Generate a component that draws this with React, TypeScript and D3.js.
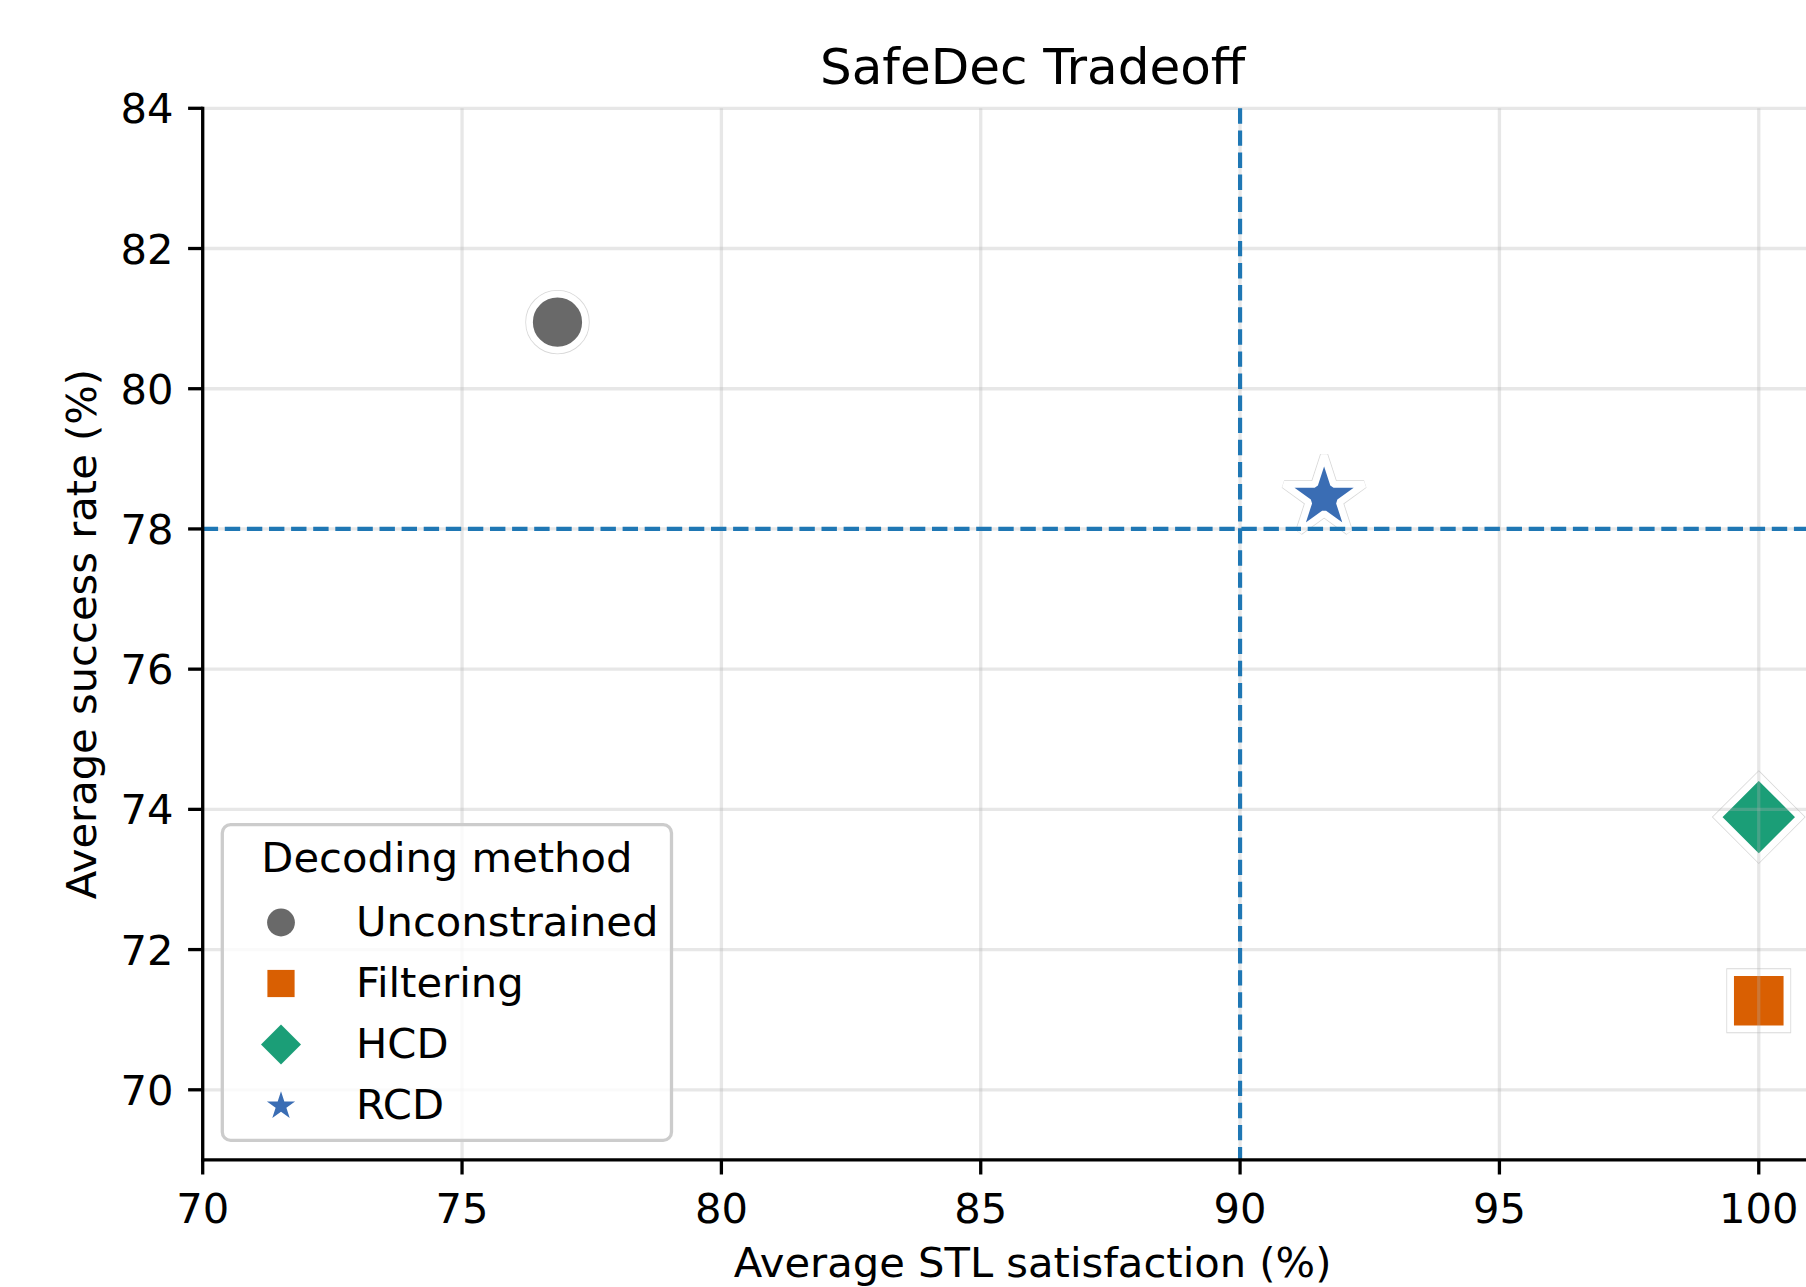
import React from "react";
import * as d3 from "d3";

// ---- data ----
const methods = ["Unconstrained", "Filtering", "HCD", "RCD"];
const stlSatisfaction = [76.84, 100, 100, 91.62];
const successRate = [80.95, 71.27, 73.89, 78.45];
const methodColors = ["#696969", "#d95f02", "#1b9e77", "#3a6db4"];
const xTicks = [70, 75, 80, 85, 90, 95, 100];
const yTicks = [70, 72, 74, 76, 78, 80, 82, 84];
const stlThreshold = 90;
const successThreshold = 78;
const xDomain = [70, 102];
const yDomain = [69, 84];

// ---- layout ----
const W = 1806;
const H = 1287;
const left = 202.7;
const right = 1862.5;
const top = 108.3;
const bottom = 1159.9;
const FONT = "DejaVu Sans, Verdana, sans-serif";
const FS = 41.67;
const TICK = 14.6;
const LW = 3.3;

const x = d3.scaleLinear().domain(xDomain).range([left, right]);
const y = d3.scaleLinear().domain(yDomain).range([bottom, top]);

// marker shapes: plot radius (path) and legend radius
type Kind = "circle" | "square" | "diamond" | "star";
const kinds: Kind[] = ["circle", "square", "diamond", "star"];
const plotRadius = [28, 28.2, 41, 42];
const legendRadius = [13.9, 13.6, 20, 14.8];

function symbolPath(kind: Kind, r: number): string {
  let type: d3.SymbolType;
  let size: number;
  if (kind === "circle") {
    type = d3.symbolCircle;
    size = Math.PI * r * r;
  } else if (kind === "square") {
    type = d3.symbolSquare;
    size = (2 * r) * (2 * r);
  } else if (kind === "diamond") {
    type = d3.symbolDiamond2;
    size = Math.pow(r / 0.62625, 2);
  } else {
    type = d3.symbolStar;
    size = (r * r) / 0.8908130915292852;
  }
  return d3.symbol().type(type).size(size)() as string;
}

function joinFor(kind: Kind): "bevel" | "miter" | "round" {
  if (kind === "star") return "bevel";
  if (kind === "circle") return "round";
  return "miter";
}

export default function App() {
  const edge = 6.8;
  const legendRows = [921, 982, 1043, 1104];
  const legX = 222.3;
  const legY = 824.7;
  const legW = 449.2;
  const legH = 315.6;

  return (
    <svg
      width={W}
      height={H}
      viewBox={`0 0 ${W} ${H}`}
      style={{ position: "absolute", left: 0, top: 0, background: "#fff" }}
      fontFamily={FONT}
    >
      <rect x={0} y={0} width={W} height={H} fill="#fff" />

      {/* markers */}
      {methods.map((m, i) => {
        const k = kinds[i];
        const d = symbolPath(k, plotRadius[i]);
        const tr = `translate(${x(stlSatisfaction[i])},${y(successRate[i])})`;
        return (
          <g key={m} transform={tr}>
            <path d={d} fill="none" stroke="#d8d8d8" strokeWidth={edge + 1.6} strokeLinejoin={joinFor(k)} />
            <path d={d} fill={methodColors[i]} stroke="#fff" strokeWidth={edge} strokeLinejoin={joinFor(k)} />
          </g>
        );
      })}

      {/* grid (above markers, semi-transparent) */}
      <g stroke="#b0b0b0" strokeOpacity={0.3} strokeWidth={3.3}>
        {xTicks.map((t) => (
          <line key={"gx" + t} x1={x(t)} x2={x(t)} y1={top} y2={bottom} />
        ))}
        {yTicks.map((t) => (
          <line key={"gy" + t} x1={left} x2={right} y1={y(t)} y2={y(t)} />
        ))}
      </g>

      {/* threshold lines */}
      <g stroke="#1f77b4" strokeWidth={4.17} strokeDasharray="15.4 6.7" fill="none">
        <line x1={x(stlThreshold)} x2={x(stlThreshold)} y1={top} y2={bottom} />
        <line x1={left} x2={right} y1={y(successThreshold)} y2={y(successThreshold)} />
      </g>

      {/* spines */}
      <line x1={left} x2={left} y1={top - LW / 2} y2={bottom + LW / 2} stroke="#000" strokeWidth={LW} />
      <line x1={left - LW / 2} x2={right} y1={bottom} y2={bottom} stroke="#000" strokeWidth={LW} />

      {/* x ticks */}
      {xTicks.map((t) => (
        <g key={"xt" + t}>
          <line x1={x(t)} x2={x(t)} y1={bottom} y2={bottom + TICK} stroke="#000" strokeWidth={LW} />
          <text x={x(t)} y={1223} fontSize={FS} textAnchor="middle" fill="#000">
            {t}
          </text>
        </g>
      ))}

      {/* y ticks */}
      {yTicks.map((t) => (
        <g key={"yt" + t}>
          <line x1={left - TICK} x2={left} y1={y(t)} y2={y(t)} stroke="#000" strokeWidth={LW} />
          <text x={left - TICK - 14.6} y={y(t)} dy="0.36em" fontSize={FS} textAnchor="end" fill="#000">
            {t}
          </text>
        </g>
      ))}

      {/* axis labels */}
      <text x={(left + right) / 2} y={1277} fontSize={FS} textAnchor="middle" fill="#000">
        Average STL satisfaction (%)
      </text>
      <text
        transform={`translate(96,${(top + bottom) / 2}) rotate(-90)`}
        fontSize={FS}
        textAnchor="middle"
        fill="#000"
      >
        Average success rate (%)
      </text>

      {/* title */}
      <text x={(left + right) / 2} y={84} fontSize={50} textAnchor="middle" fill="#000">
        SafeDec Tradeoff
      </text>

      {/* legend */}
      <g>
        <rect
          x={legX}
          y={legY}
          width={legW}
          height={legH}
          rx={8.3}
          ry={8.3}
          fill="#fff"
          fillOpacity={0.8}
          stroke="#cccccc"
          strokeWidth={3.3}
        />
        <text x={legX + legW / 2} y={872} fontSize={FS} textAnchor="middle" fill="#000">
          Decoding method
        </text>
        {methods.map((m, i) => (
          <g key={"lg" + m}>
            <path
              d={symbolPath(kinds[i], legendRadius[i])}
              transform={`translate(281,${legendRows[i] + (kinds[i] === "star" ? 2 : 1.5)})`}
              fill={methodColors[i]}
            />
            <text x={356} y={legendRows[i]} dy="0.36em" fontSize={FS} fill="#000">
              {m}
            </text>
          </g>
        ))}
      </g>
    </svg>
  );
}
